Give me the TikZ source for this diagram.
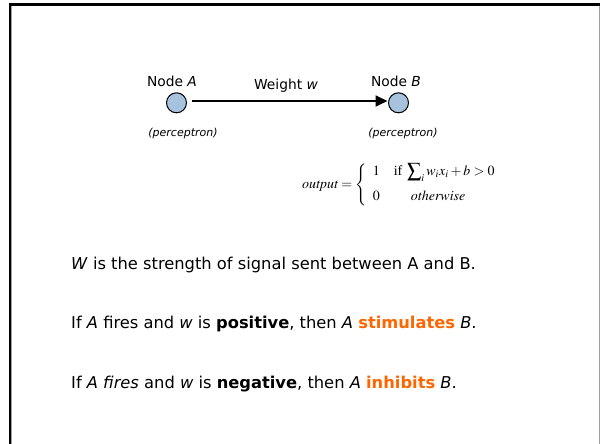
\documentclass[tikz,border=0pt]{standalone}
\usepackage{mathptmx}
\usepackage[no-math]{fontspec}
\setmainfont{DejaVu Sans}
\newfontfamily\timesfont{Liberation Serif}
\usetikzlibrary{arrows.meta}
\definecolor{nodeblue}{HTML}{A7C2DC}
\definecolor{orng}{HTML}{FF6600}
\definecolor{framegray}{HTML}{A0A0A0}
\tikzset{
  neuron/.style={circle,draw=black,line width=1pt,fill=nodeblue,minimum size=20pt,inner sep=0pt},
  lbl/.style={font=\fontsize{13.8}{16}\selectfont,anchor=base,inner sep=0pt},
  perc/.style={font=\fontsize{11}{13}\selectfont\itshape,anchor=base,inner sep=0pt},
  bodytext/.style={font=\fontsize{16.3}{19}\selectfont,anchor=base west,inner sep=0pt},
  conn/.style={line width=1.8pt,-{Triangle[length=12pt,width=11pt]}}
}
\begin{document}
\begin{tikzpicture}[x=1pt,y=-1pt]
\useasboundingbox (0,0) rectangle (600,444);
\fill[white] (0,0) rectangle (600,444);
% frame
\draw[framegray,line width=1pt] (11.5,6) -- (11.5,444);
\draw[framegray,line width=1pt] (599,5) -- (599,444);
\draw[black,line width=2.5pt] (8.5,4.5) -- (599.5,4.5);
\draw[black,line width=2.2pt] (9.6,3.3) -- (9.6,444);
% nodes
\node[neuron] (A) at (176.5,102.8) {};
\node[neuron] (B) at (398.5,102.8) {};
\draw[conn,shorten <=5pt,shorten >=0.5pt] (A.east |- 0,101) coordinate (as) (as) -- (B.west |- 0,101) coordinate (bs);
\node[lbl] (la) at (172,86) {Node \textit{A}};
\node[lbl] (lb) at (396,86) {Node \textit{B}};
\node[lbl] (lw) at (286,89) {Weight \textit{w}};
\node[perc] (pa) at (183,136) {(perceptron)};
\node[perc] (pb) at (403,136) {(perceptron)};
% formula
\node[anchor=west,inner sep=0pt,font=\fontsize{14}{16}\selectfont] (f) at (302,184.5)
  {$\mathit{output} = \left\{\begin{array}{@{\;\;}l@{\quad}l}
   1 & \mbox{\timesfont if}\; \displaystyle\sum\nolimits_i w_i x_i + b > 0\\[9pt]
   0 & \quad\;\mathit{otherwise}\end{array}\right.$};
% body text
\node[bodytext] (t1) at (71,269) {\textit{W} is the strength of signal sent between A and B.};
\node[bodytext] (t2) at (71,328) {If \textit{A} fires and \textit{w} is \textbf{positive}, then \textit{A} \textcolor{orng}{\textbf{stimulates}} \textit{B}.};
\node[bodytext] (t3) at (71,388) {If \textit{A fires} and \textit{w} is \textbf{negative}, then \textit{A} \textcolor{orng}{\textbf{inhibits}} \textit{B}.};
\end{tikzpicture}
\end{document}
